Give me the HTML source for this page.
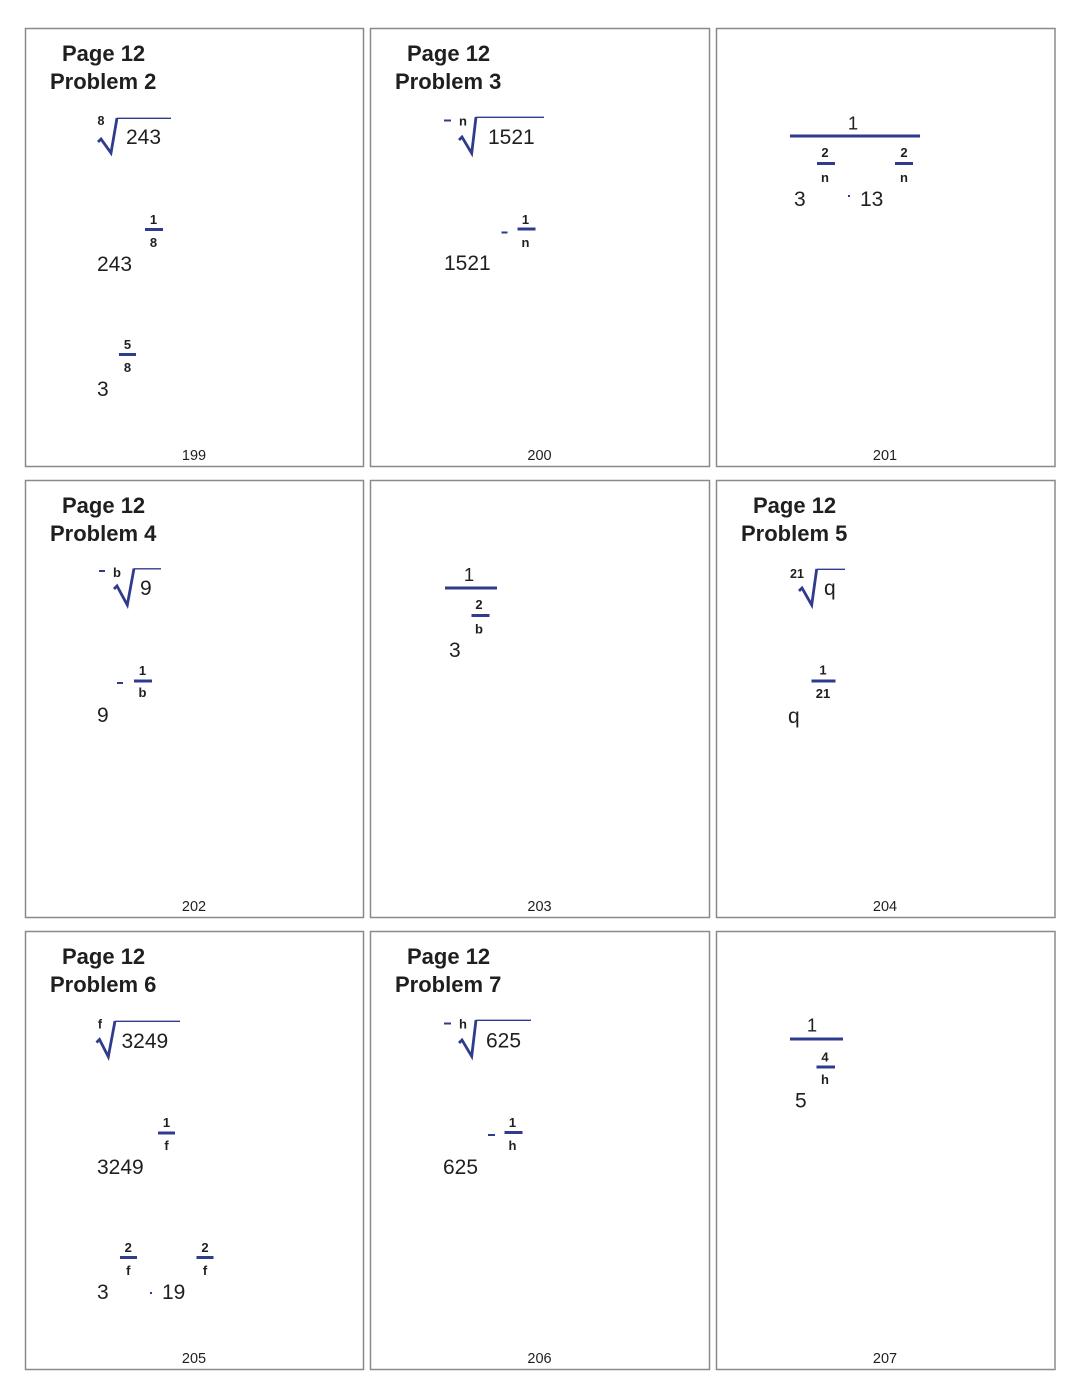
<!DOCTYPE html>
<html>
<head>
<meta charset="utf-8">
<style>
html,body{margin:0;padding:0;background:#fff;}
svg{display:block;}
text{font-family:"Liberation Sans",Arial,sans-serif;fill:#1f1f1f;}
.t{font-weight:bold;font-size:22px;}
.b{font-size:21px;}
.s{font-weight:bold;font-size:13px;}
.i{font-weight:bold;font-size:12.5px;}
.p{font-size:14.5px;}
.one{font-size:18.5px;}
.bar{fill:#2f3b8c;}
.chk{fill:none;stroke:#2f3b8c;stroke-width:2.8;stroke-linejoin:miter;stroke-linecap:butt;}
.ov{fill:none;stroke:#2f3b8c;stroke-width:1.4;}
.box{fill:none;stroke:#8a8a8a;stroke-width:1.5;}
</style>
</head>
<body>
<svg width="1080" height="1398" viewBox="0 0 1080 1398" xmlns="http://www.w3.org/2000/svg">
<rect x="0" y="0" width="1080" height="1398" fill="#fff"/>

<!-- boxes -->
<rect class="box" x="25.5" y="28.5" width="338" height="438"/>
<rect class="box" x="370.5" y="28.5" width="339" height="438"/>
<rect class="box" x="716.5" y="28.5" width="338.5" height="438"/>
<rect class="box" x="25.5" y="480.5" width="338" height="437"/>
<rect class="box" x="370.5" y="480.5" width="339" height="437"/>
<rect class="box" x="716.5" y="480.5" width="338.5" height="437"/>
<rect class="box" x="25.5" y="931.5" width="338" height="438"/>
<rect class="box" x="370.5" y="931.5" width="339" height="438"/>
<rect class="box" x="716.5" y="931.5" width="338.5" height="438"/>

<!-- page numbers -->
<text class="p" x="194" y="460" text-anchor="middle">199</text>
<text class="p" x="539.5" y="460" text-anchor="middle">200</text>
<text class="p" x="885" y="460" text-anchor="middle">201</text>
<text class="p" x="194" y="911" text-anchor="middle">202</text>
<text class="p" x="539.5" y="911" text-anchor="middle">203</text>
<text class="p" x="885" y="911" text-anchor="middle">204</text>
<text class="p" x="194" y="1363" text-anchor="middle">205</text>
<text class="p" x="539.5" y="1363" text-anchor="middle">206</text>
<text class="p" x="885" y="1363" text-anchor="middle">207</text>

<!-- ============ Panel 199 ============ -->
<text class="t" x="62" y="61">Page 12</text>
<text class="t" x="50" y="89">Problem 2</text>
<text class="i" x="101" y="125" text-anchor="middle">8</text>
<polyline class="chk" points="98,142 101,139 111,153 117,118"/>
<line class="ov" x1="117" y1="118.3" x2="171" y2="118.3"/>
<text class="b" x="126" y="144">243</text>

<text class="b" x="97" y="271">243</text>
<text class="s" x="153.5" y="224" text-anchor="middle">1</text>
<rect class="bar" x="145" y="228" width="18" height="3"/>
<text class="s" x="153.5" y="247" text-anchor="middle">8</text>

<text class="b" x="97" y="396">3</text>
<text class="s" x="127.5" y="349" text-anchor="middle">5</text>
<rect class="bar" x="119" y="353" width="17" height="3"/>
<text class="s" x="127.5" y="372" text-anchor="middle">8</text>

<!-- ============ Panel 200 ============ -->
<text class="t" x="407" y="61">Page 12</text>
<text class="t" x="395" y="89">Problem 3</text>
<rect class="bar" x="444" y="119.5" width="7" height="2"/>
<text class="s" x="463" y="125.5" text-anchor="middle">n</text>
<polyline class="chk" points="459,140 462,137 471.7,153.3 476,117"/>
<line class="ov" x1="476" y1="117.3" x2="544" y2="117.3"/>
<text class="b" x="488" y="144">1521</text>

<text class="b" x="444" y="270">1521</text>
<rect class="bar" x="501.5" y="231.5" width="6" height="2"/>
<text class="s" x="525.5" y="224" text-anchor="middle">1</text>
<rect class="bar" x="517.5" y="227.5" width="18" height="3"/>
<text class="s" x="525.5" y="247" text-anchor="middle">n</text>

<!-- ============ Panel 201 ============ -->
<text class="one" x="853" y="129.5" text-anchor="middle">1</text>
<rect class="bar" x="790" y="134.5" width="130" height="3"/>
<text class="s" x="825" y="157" text-anchor="middle">2</text>
<rect class="bar" x="817" y="162" width="18" height="3"/>
<text class="s" x="825" y="182" text-anchor="middle">n</text>
<text class="s" x="904" y="157" text-anchor="middle">2</text>
<rect class="bar" x="895" y="162" width="18" height="3"/>
<text class="s" x="904" y="182" text-anchor="middle">n</text>
<text class="b" x="794" y="206">3</text>
<rect class="bar" x="848" y="195" width="2" height="2"/>
<text class="b" x="860" y="206">13</text>

<!-- ============ Panel 202 ============ -->
<text class="t" x="62" y="513">Page 12</text>
<text class="t" x="50" y="541">Problem 4</text>
<rect class="bar" x="99" y="570" width="6" height="2"/>
<text class="s" x="117" y="577" text-anchor="middle">b</text>
<polyline class="chk" points="114,589 117,586 127.3,605 134,568.5"/>
<line class="ov" x1="134" y1="568.8" x2="161" y2="568.8"/>
<text class="b" x="140" y="595">9</text>

<text class="b" x="97" y="722">9</text>
<rect class="bar" x="117" y="682" width="6" height="2"/>
<text class="s" x="142.5" y="675" text-anchor="middle">1</text>
<rect class="bar" x="134" y="679.5" width="18" height="3"/>
<text class="s" x="142.5" y="697" text-anchor="middle">b</text>

<!-- ============ Panel 203 ============ -->
<text class="one" x="469" y="581" text-anchor="middle">1</text>
<rect class="bar" x="445" y="586.5" width="52" height="3"/>
<text class="s" x="479" y="609" text-anchor="middle">2</text>
<rect class="bar" x="471.5" y="614" width="18" height="3"/>
<text class="s" x="479" y="633.5" text-anchor="middle">b</text>
<text class="b" x="449" y="657">3</text>

<!-- ============ Panel 204 ============ -->
<text class="t" x="753" y="513">Page 12</text>
<text class="t" x="741" y="541">Problem 5</text>
<text class="i" x="797" y="578" text-anchor="middle">21</text>
<polyline class="chk" points="799,591 802,588 811.7,605 816.7,569"/>
<line class="ov" x1="816.7" y1="569.3" x2="845" y2="569.3"/>
<text class="b" x="824" y="595">q</text>

<text class="b" x="788" y="723">q</text>
<text class="s" x="823" y="674.5" text-anchor="middle">1</text>
<rect class="bar" x="811.5" y="679.5" width="24" height="3"/>
<text class="s" x="823" y="698" text-anchor="middle">21</text>

<!-- ============ Panel 205 ============ -->
<text class="t" x="62" y="964">Page 12</text>
<text class="t" x="50" y="992">Problem 6</text>
<text class="i" x="100" y="1028.5" text-anchor="middle">f</text>
<polyline class="chk" points="96.5,1042.5 99.5,1039.5 108.3,1056.7 115,1021"/>
<line class="ov" x1="115" y1="1021.3" x2="180" y2="1021.3"/>
<text class="b" x="121.5" y="1048">3249</text>

<text class="b" x="97" y="1174">3249</text>
<text class="s" x="166.5" y="1127" text-anchor="middle">1</text>
<rect class="bar" x="158" y="1131.5" width="17" height="3"/>
<text class="s" x="166.5" y="1150" text-anchor="middle">f</text>

<text class="b" x="97" y="1299">3</text>
<text class="s" x="128.3" y="1252" text-anchor="middle">2</text>
<rect class="bar" x="120" y="1256" width="17" height="3"/>
<text class="s" x="128.3" y="1275" text-anchor="middle">f</text>
<text class="s" x="205" y="1252" text-anchor="middle">2</text>
<rect class="bar" x="196.5" y="1256" width="17" height="3"/>
<text class="s" x="205" y="1275" text-anchor="middle">f</text>
<rect class="bar" x="150" y="1292" width="2" height="2"/>
<text class="b" x="162" y="1299">19</text>

<!-- ============ Panel 206 ============ -->
<text class="t" x="407" y="964">Page 12</text>
<text class="t" x="395" y="992">Problem 7</text>
<rect class="bar" x="444" y="1022.5" width="7" height="2"/>
<text class="s" x="463" y="1028.5" text-anchor="middle">h</text>
<polyline class="chk" points="459,1043 462,1040 471.7,1056.3 476,1020"/>
<line class="ov" x1="476" y1="1020.3" x2="531" y2="1020.3"/>
<text class="b" x="486" y="1047.5">625</text>

<text class="b" x="443" y="1174">625</text>
<rect class="bar" x="488" y="1134" width="7" height="2"/>
<text class="s" x="512.5" y="1127" text-anchor="middle">1</text>
<rect class="bar" x="504.5" y="1131" width="18" height="3"/>
<text class="s" x="512.5" y="1150" text-anchor="middle">h</text>

<!-- ============ Panel 207 ============ -->
<text class="one" x="812" y="1031.5" text-anchor="middle">1</text>
<rect class="bar" x="790" y="1037.5" width="53" height="3"/>
<text class="s" x="825" y="1061.5" text-anchor="middle">4</text>
<rect class="bar" x="816.5" y="1065.5" width="18.5" height="3"/>
<text class="s" x="825" y="1084" text-anchor="middle">h</text>
<text class="b" x="795" y="1107.5">5</text>

</svg>
</body>
</html>
